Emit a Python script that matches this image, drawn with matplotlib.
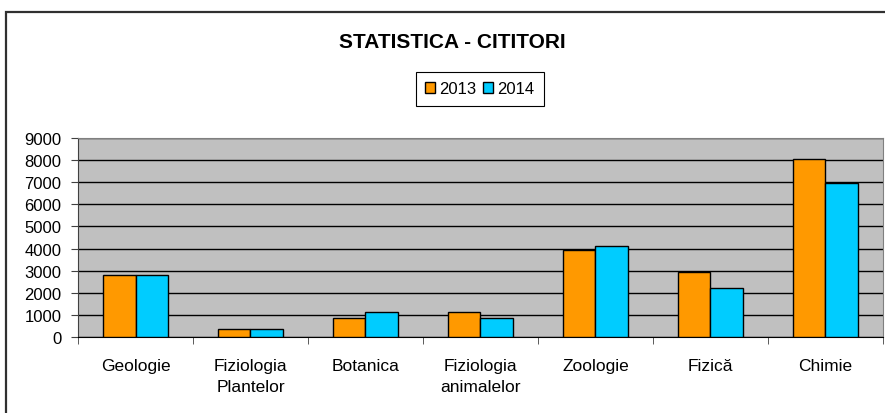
import numpy as np
import matplotlib.pyplot as plt
from matplotlib.patches import Rectangle

plt.rcParams['font.family'] = ['Liberation Sans', 'DejaVu Sans']

categories = ["Geologie", "Fiziologia\nPlantelor", "Botanica", "Fiziologia\nanimalelor",
              "Zoologie", "Fizică", "Chimie"]
values_2013 = [2800, 370, 870, 1140, 3950, 2930, 8050]
values_2014 = [2800, 370, 1140, 870, 4130, 2220, 6950]
years = ["2013", "2014"]

fig = plt.figure(figsize=(8.85, 4.14), dpi=100)
W, H = 885, 414

# outer chart frame (right and bottom edges lie outside the picture)
fig.patches.append(Rectangle((6 / W, -0.1), 1.2, (1 - 13 / H) + 0.1, transform=fig.transFigure,
                             fill=False, edgecolor='#303030', linewidth=1.6))

ax = fig.add_axes([78 / W, 1 - 338 / H, (883 - 78) / W, (338 - 139) / H])
ax.set_facecolor('#C0C0C0')

x = np.arange(len(categories))
w = 0.284
ax.bar(x - w / 2, values_2013, w, color='#FF9900', edgecolor='black', linewidth=1, label=years[0], zorder=3)
ax.bar(x + w / 2, values_2014, w, color='#00CCFF', edgecolor='black', linewidth=1, label=years[1], zorder=3)

ax.set_xlim(-0.5, len(categories) - 0.5)
ax.set_ylim(0, 9000)
ax.set_yticks(range(0, 9001, 1000))
ax.yaxis.grid(True, color='black', linewidth=1, zorder=1)
ax.set_axisbelow(True)

ax.set_xticks(x)
ax.set_xticklabels(categories, fontsize=12.5, linespacing=1.55)
ax.set_xticks(np.arange(-0.5, len(categories)), minor=True)
ax.tick_params(axis='x', which='major', length=0, pad=15)
ax.tick_params(axis='x', which='minor', length=5, color='#404040', direction='out')
ax.tick_params(axis='y', labelsize=12, length=5, color='#404040', pad=7)

for s in ['top', 'right']:
    ax.spines[s].set_color('#808080')
ax.spines['left'].set_color('#404040')
ax.spines['bottom'].set_color('black')

fig.text(452 / W, 1 - 43 / H, "STATISTICA - CITITORI", ha='center', va='center',
         fontsize=15, fontweight='bold')

leg = fig.legend(loc='center', bbox_to_anchor=(480 / W, 1 - 90 / H), ncol=2, fontsize=12,
                 handlelength=0.6, handleheight=0.6, handletextpad=0.25, columnspacing=0.4,
                 borderpad=0.55, borderaxespad=0, fancybox=False, framealpha=1, edgecolor='black')
leg.get_frame().set_linewidth(0.8)

fig.savefig("out.png", dpi=100)
